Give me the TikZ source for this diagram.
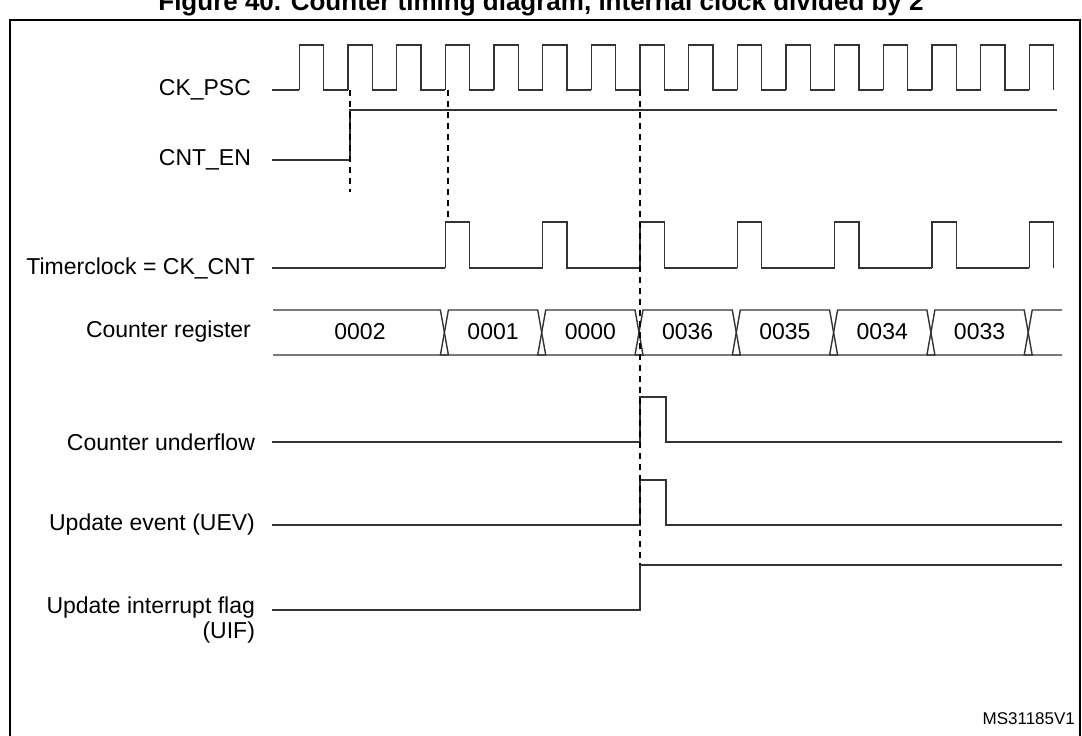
\documentclass[tikz,border=0pt]{standalone}
\usepackage{fontspec}
\setmainfont{Liberation Sans}
\usetikzlibrary{positioning}

\tikzset{
	wave/.style={line width=0.7pt,black!80},
	sig/.style={font=\fontsize{11.5}{12.5}\selectfont,anchor=east,align=right},
	val/.style={font=\fontsize{11.5}{13}\selectfont},
	marker/.style={dashed,line width=0.6pt,dash pattern=on 3pt off 2.5pt}
}
\newcommand{\per}{48.65}

\begin{document}
\begin{tikzpicture}[x=0.5pt,y=-0.5pt]
	\useasboundingbox (0,0) rectangle (1082,735);
	\begin{scope}
	\clip (0,0) rectangle (1082,735);
	\node[font=\bfseries\fontsize{13}{15}\selectfont] (title) at (541,4) {Figure 40. Counter timing diagram, internal clock divided by 2};
	\end{scope}
	\draw[line width=0.8pt] (10,760) -- (10,20) -- (1080,20) -- (1080,760);
	
	%LABELS
	\node[sig] (psc) at (258,90) {CK\_PSC};
	\node[sig] (en) at (258,160) {CNT\_EN};
	\node[sig] (cnt) at (262,268) {Timerclock = CK\_CNT};
	\node[sig] (reg) at (258,332) {Counter register};
	\node[sig] (udf) at (262,442) {Counter underflow};
	\node[sig] (uev) at (262,525) {Update event (UEV)};
	\node[sig] (uif) at (262,620) {Update interrupt flag\\(UIF)};
	\node[font=\fontsize{8.5}{10}\selectfont,anchor=south east] (ref) at (1082,732) {MS31185V1};
	
	%CK_PSC
	\draw[wave] (272,90) -- ({640-7*\per},90);
	\foreach \k in {-7,...,7}
		\draw[wave] ({640+\k*\per},90) -- ++(0,-45) -- ++({\per/2},0) -- ++(0,45) -- ++({\per/2},0);
	\draw[wave] ({640+8*\per},90) -- ++(0,-45) -- ++({\per/2},0) -- ++(0,45);
	
	%CNT_EN
	\draw[wave] (272,160) -- (350,160) -- (350,110) -- (1057,110);
	
	%CK_CNT
	\draw[wave] (272,268) -- ({640-4*\per},268);
	\foreach \j in {-2,...,3}
		\draw[wave] ({640+2*\j*\per},268) -- ++(0,-46) -- ++({\per/2},0) -- ++(0,46) -- ++({1.5*\per},0);
	\draw[wave] ({640+8*\per},268) -- ++(0,-46) -- ++({\per/2},0) -- ++(0,46);
	
	%COUNTER REGISTER
	\draw[wave] (273,310) -- ({640-4*\per-5},310) -- ({640-4*\per+3},355) -- (273,355);
	\foreach \j in {-2,...,3}
		\draw[wave] ({640+2*\j*\per-5},355) -- ({640+2*\j*\per+3},310) -- ({640+2*(\j+1)*\per-5},310) -- ({640+2*(\j+1)*\per+3},355) -- cycle;
	\draw[wave] (1062,310) -- ({640+8*\per+3},310) -- ({640+8*\per-5},355) -- (1062,355);
	\foreach \v [count=\i from -2] in {0001,0000,0036,0035,0034,0033}
		\node[val] (v\i) at ({640+(2*\i+1)*\per-1},332) {\v};
	\node[val] (v0002) at (360,332) {0002};
	
	%FLAGS
	\draw[wave] (272,442) -- (640,442) -- (640,397) -- (666,397) -- (666,442) -- (1062,442);
	\draw[wave] (272,525) -- (640,525) -- (640,480) -- (666,480) -- (666,525) -- (1062,525);
	\draw[wave] (272,610) -- (640,610) -- (640,565) -- (1062,565);
	
	%DASHED MARKERS
	\draw[marker] (350,90) -- (350,192);
	\draw[marker] (448,90) -- (448,222);
	\draw[marker] (640,90) -- (640,565);
\end{tikzpicture}
\end{document}
